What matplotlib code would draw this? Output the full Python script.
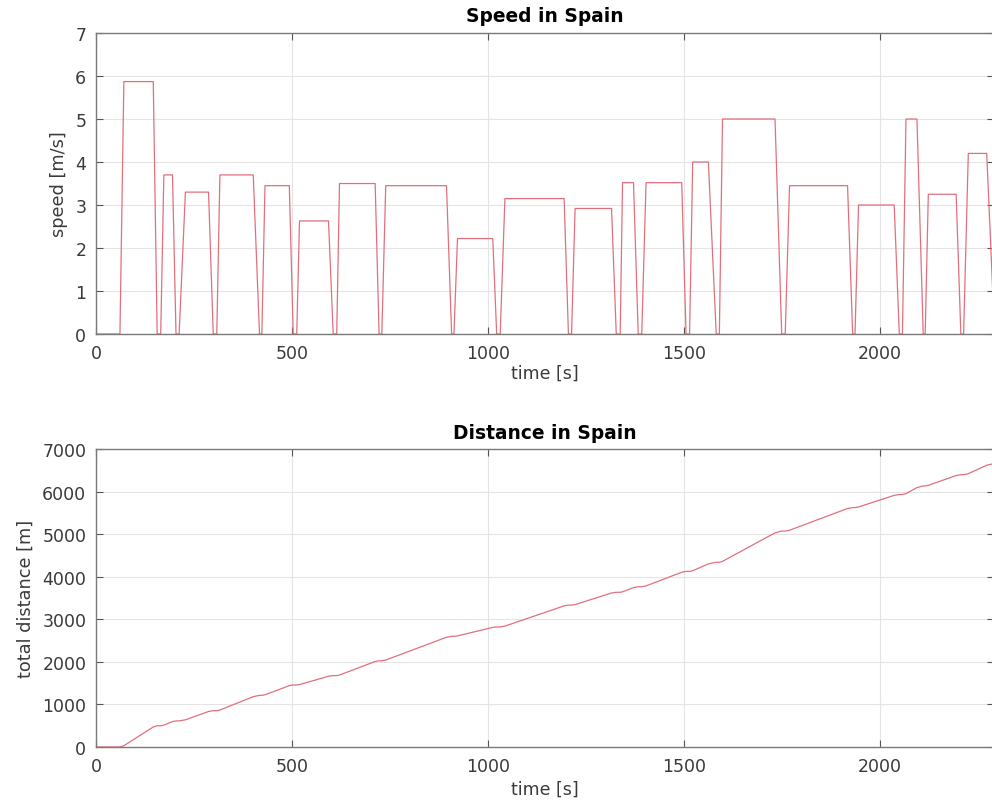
import numpy as np
import matplotlib.pyplot as plt

# speed profile vertices (time in s, speed in m/s)
time_s = [0, 61, 71, 146, 156, 165, 173, 195, 204, 212, 228, 287, 299, 308, 316, 401, 417,
          423, 431, 493, 503, 512, 519, 593, 605, 614, 621, 712, 722, 729, 739, 894, 907,
          913, 922, 1012, 1022, 1031, 1043, 1194, 1205, 1213, 1222, 1315, 1327, 1337, 1343,
          1371, 1383, 1392, 1403, 1494, 1505, 1514, 1522, 1562, 1582, 1590, 1598, 1732, 1749,
          1758, 1769, 1917, 1930, 1936, 1945, 2036, 2049, 2057, 2066, 2094, 2110, 2115, 2123,
          2194, 2206, 2213, 2225, 2272, 2292]
speed = [0, 0, 5.87, 5.87, 0, 0, 3.7, 3.7, 0, 0, 3.3, 3.3, 0, 0, 3.7, 3.7, 0,
         0, 3.45, 3.45, 0, 0, 2.63, 2.63, 0, 0, 3.5, 3.5, 0, 0, 3.45, 3.45, 0,
         0, 2.22, 2.22, 0, 0, 3.15, 3.15, 0, 0, 2.92, 2.92, 0, 0, 3.52,
         3.52, 0, 0, 3.52, 3.52, 0, 0, 4.0, 4.0, 0, 0, 5.0, 5.0, 0,
         0, 3.45, 3.45, 0, 0, 3.0, 3.0, 0, 0, 5.0, 5.0, 0, 0, 3.25,
         3.25, 0, 0, 4.2, 4.2, 0]
# total distance at the same instants (m)
distance = [0, 0, 29, 470, 499, 499, 514, 595, 612, 612, 638, 833, 853, 853, 868, 1182, 1212,
            1212, 1226, 1440, 1457, 1457, 1466, 1661, 1677, 1677, 1689, 2008, 2025, 2025, 2042, 2577, 2599,
            2599, 2609, 2809, 2820, 2820, 2839, 3315, 3332, 3332, 3345, 3617, 3634, 3634, 3645,
            3743, 3764, 3764, 3784, 4104, 4124, 4124, 4140, 4300, 4340, 4340, 4360, 5030, 5072,
            5072, 5091, 5602, 5624, 5624, 5638, 5911, 5930, 5930, 5953, 6093, 6133, 6133, 6146,
            6377, 6396, 6396, 6421, 6619, 6661]

line_color = '#e0707c'
plt.rcParams['font.family'] = ['DejaVu Sans']

fig = plt.figure(figsize=(9.92, 8.04), dpi=100)
ax1 = fig.add_axes([0.0968, 0.5833, 0.905, 0.3744])
ax2 = fig.add_axes([0.0968, 0.0697, 0.905, 0.3706])


def matlabStyle(ax, title, ylabel, yticks, titlepad, xlabelpad):
    ax.set_xlim(0, 2290)
    ax.set_xticks([0, 500, 1000, 1500, 2000])
    ax.set_yticks(yticks)
    ax.set_ylim(yticks[0], yticks[-1])
    ax.grid(True, color='#e4e4e4', linewidth=0.8)
    ax.set_axisbelow(True)
    for sp in ax.spines.values():
        sp.set_color('#7a7a7a')
        sp.set_linewidth(1.0)
    ax.tick_params(direction='in', top=True, right=True, length=5,
                   color='#555555', labelsize=12.5, labelcolor='#3a3a3a')
    ax.tick_params(axis='x', pad=7.5)
    ax.tick_params(axis='y', pad=7)
    ax.set_title(title, fontsize=13.4, fontweight='bold', pad=titlepad)
    ax.set_xlabel('time [s]', fontsize=12.5, color='#3a3a3a', labelpad=xlabelpad)
    ax.set_ylabel(ylabel, fontsize=12.8, color='#3a3a3a', labelpad=5)


ax1.plot(time_s, speed, color=line_color, linewidth=0.9)
matlabStyle(ax1, 'Speed in Spain', 'speed [m/s]', list(range(0, 8)), 8.5, 1)

ax2.plot(time_s, distance, color=line_color, linewidth=0.9)
matlabStyle(ax2, 'Distance in Spain', 'total distance [m]', list(range(0, 8000, 1000)), 8, 3)

fig.savefig('out.png', dpi=100)
